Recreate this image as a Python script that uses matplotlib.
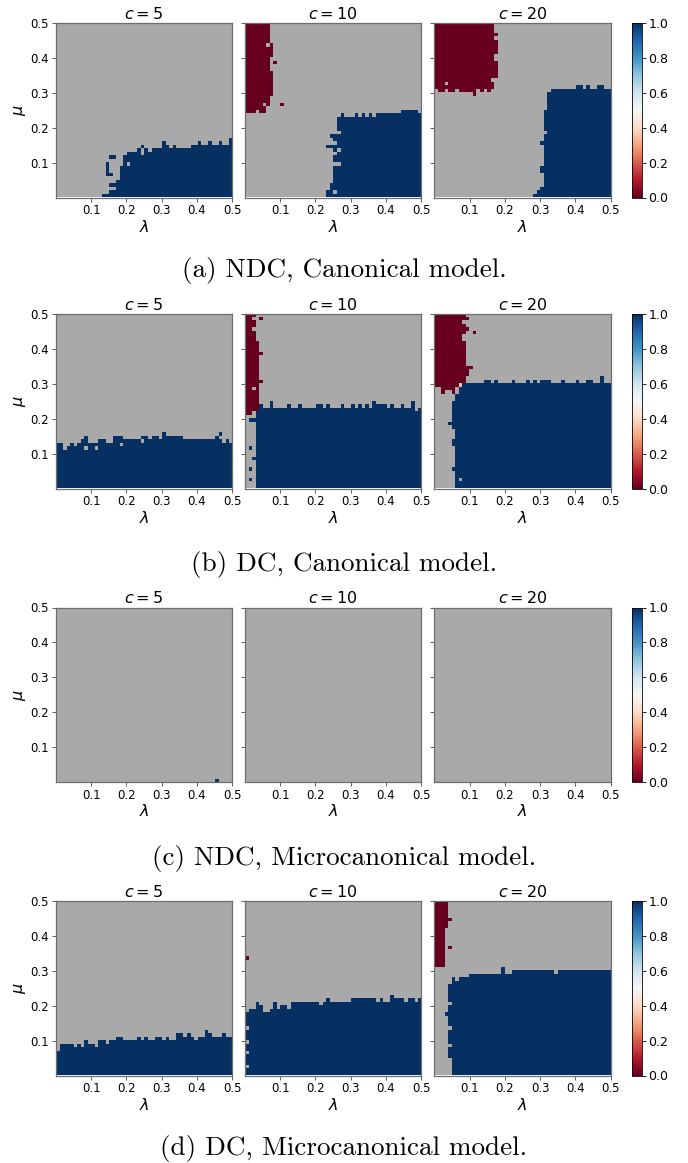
import numpy as np
import matplotlib
matplotlib.use("Agg")
import matplotlib.pyplot as plt
from matplotlib import colors, cm

# ---------------- data (cell indices on a 50 x 50 grid, step 0.01) ----------------
C_VALUES = [5, 10, 20]
LAM_TICKS = [0.1, 0.2, 0.3, 0.4, 0.5]
MU_TICKS = [0.1, 0.2, 0.3, 0.4, 0.5]
CBAR_TICKS = [0.0, 0.2, 0.4, 0.6, 0.8, 1.0]
CAPTIONS = ["(a) NDC, Canonical model.", "(b) DC, Canonical model.",
            "(c) NDC, Microcanonical model.", "(d) DC, Microcanonical model."]

# (a) NDC canonical
A1_TOP = [0, 0, 0, 0, 0, 0, 0, 0, 0, 0, 0, 0, 0, 1, 2, 3, 4, 9, 12, 12, 13, 13, 13, 14, 15,
          14, 13, 14, 14, 14, 16, 15, 14, 15, 14, 14, 14, 14, 15, 15, 16, 15, 15, 16, 15, 15, 16, 15, 15, 17]
A1_LEFT = [13, 15, 17, 16, 17, 18, 18, 18, 18, 19, 19, 19, 20, 22, 23, 0, 0, 0, 0, 0, 0, 0, 0, 0, 0,
           0, 0, 0, 0, 0, 0, 0, 0, 0, 0, 0, 0, 0, 0, 0, 0, 0, 0, 0, 0, 0, 0, 0, 0, 0]
A1_BLUE_DOTS = [(14, 6), (14, 7), (14, 8), (14, 9), (15, 6), (15, 11), (16, 11), (15, 3)]
A1_GRAY_DOTS = [(20, 9), (24, 12), (24, 13)]

A2_TOP = [0, 0, 0, 0, 0, 0, 0, 0, 0, 0, 0, 0, 0, 0, 0, 0, 0, 0, 0, 0, 0, 0, 0, 23, 23,
          23, 23, 24, 23, 23, 23, 24, 23, 24, 23, 24, 23, 24, 24, 24, 24, 24, 24, 24, 25, 25, 25, 25, 25, 24]
A2_LEFT = [23, 23, 24, 24, 25, 25, 25, 25, 25, 26, 25, 25, 26, 25, 25, 26, 25, 25, 26, 26, 26, 26, 26, 27, 0,
           0, 0, 0, 0, 0, 0, 0, 0, 0, 0, 0, 0, 0, 0, 0, 0, 0, 0, 0, 0, 0, 0, 0, 0, 0]
A2_RED_BOTTOM = [24, 24, 24, 25, 24, 24, 25, 26, 50, 50, 50, 50, 50, 50, 50, 50, 50, 50, 50, 50, 50, 50, 50, 50, 50,
                 50, 50, 50, 50, 50, 50, 50, 50, 50, 50, 50, 50, 50, 50, 50, 50, 50, 50, 50, 50, 50, 50, 50, 50, 50]
A2_RED_RIGHT = [0, 0, 0, 0, 0, 0, 0, 0, 0, 0, 0, 0, 0, 0, 0, 0, 0, 0, 0, 0, 0, 0, 0, 0, 6,
                6, 7, 7, 7, 8, 8, 8, 8, 8, 8, 8, 7, 7, 7, 7, 8, 8, 8, 8, 7, 7, 7, 7, 7, 7]
A2_BLUE_DOTS = [(23, 14), (24, 14), (24, 17)]
A2_RED_DOTS = [(8, 38), (10, 26)]
A2_GRAY_DOTS = [(25, 1), (26, 9), (26, 13), (26, 18), (6, 43), (5, 26)]

A3_TOP = [0, 0, 0, 0, 0, 0, 0, 0, 0, 0, 0, 0, 0, 0, 0, 0, 0, 0, 0, 0, 0, 0, 0, 0, 0,
          0, 0, 0, 1, 2, 30, 30, 30, 31, 31, 31, 31, 31, 31, 31, 32, 32, 31, 32, 31, 31, 32, 32, 31, 31]
A3_LEFT = [28, 29, 30, 31, 31, 31, 31, 30, 30, 31, 31, 31, 31, 31, 31, 31, 31, 31, 32, 31, 31, 31, 31, 31, 31,
           32, 32, 32, 32, 32, 33, 40, 0, 0, 0, 0, 0, 0, 0, 0, 0, 0, 0, 0, 0, 0, 0, 0, 0, 0]
A3_RED_BOTTOM = [31, 30, 30, 31, 30, 30, 31, 30, 30, 30, 30, 29, 31, 30, 31, 30, 31, 34, 50, 50, 50, 50, 50, 50, 50,
                 50, 50, 50, 50, 50, 50, 50, 50, 50, 50, 50, 50, 50, 50, 50, 50, 50, 50, 50, 50, 50, 50, 50, 50, 50]
A3_RED_RIGHT = [0, 0, 0, 0, 0, 0, 0, 0, 0, 0, 0, 0, 0, 0, 0, 0, 0, 0, 0, 0, 0, 0, 0, 0, 0,
                0, 0, 0, 0, 17, 17, 17, 17, 17, 18, 18, 18, 18, 18, 17, 17, 18, 18, 18, 18, 17, 18, 17, 17, 17]
A3_BLUE_DOTS = [(30, 15)]
A3_GRAY_DOTS = [(3, 32), (16, 33)]

# (b) DC canonical
B1_TOP = [13, 13, 11, 12, 13, 12, 13, 14, 15, 13, 13, 13, 14, 14, 13, 13, 15, 15, 15, 14, 14, 14, 14, 14, 15,
          15, 14, 15, 15, 14, 16, 15, 15, 15, 15, 15, 14, 14, 14, 14, 14, 14, 14, 14, 14, 15, 16, 13, 14, 13]
B1_GRAY_DOTS = [(8, 11), (11, 11), (18, 12), (24, 13), (46, 14)]

B2_TOP = [0, 0, 0, 22, 24, 23, 23, 25, 23, 23, 23, 23, 24, 23, 23, 24, 23, 23, 23, 23, 24, 24, 23, 24, 23,
          23, 23, 24, 23, 23, 24, 23, 24, 23, 24, 23, 25, 24, 24, 24, 23, 24, 23, 23, 24, 23, 23, 25, 22, 23]
B2_LEFT = [3, 3, 3, 3, 2, 3, 3, 3, 3, 3, 3, 3, 2, 3, 3, 3, 3, 3, 3, 3, 3, 3, 3, 3, 3,
           3, 3, 3, 3, 3, 3, 3, 3, 3, 3, 3, 3, 3, 3, 3, 3, 3, 3, 3, 3, 3, 3, 3, 3, 3]
B2_RED_BOTTOM = [21, 21, 22, 22, 30, 50, 50, 50, 50, 50, 50, 50, 50, 50, 50, 50, 50, 50, 50, 50, 50, 50, 50, 50, 50,
                 50, 50, 50, 50, 50, 50, 50, 50, 50, 50, 50, 50, 50, 50, 50, 50, 50, 50, 50, 50, 50, 50, 50, 50, 50]
B2_RED_RIGHT = [0, 0, 0, 0, 0, 0, 0, 0, 0, 0, 0, 0, 0, 0, 0, 0, 0, 0, 0, 0, 0, 2, 4, 4, 4,
                4, 4, 4, 4, 4, 5, 4, 4, 4, 4, 4, 4, 4, 5, 4, 4, 4, 3, 3, 3, 3, 3, 3, 3, 3]
B2_BLUE_DOTS = [(1, 19), (2, 19), (1, 11), (1, 5), (1, 2), (2, 8)]
B2_RED_DOTS = [(4, 48)]
B2_GRAY_DOTS = [(2, 48), (2, 45), (2, 28)]

B3_TOP = [0, 0, 0, 0, 19, 26, 27, 29, 30, 30, 30, 30, 30, 30, 31, 31, 30, 31, 30, 30, 30, 30, 31, 30, 30,
          30, 31, 30, 31, 30, 31, 31, 31, 30, 30, 30, 31, 30, 30, 30, 31, 30, 30, 31, 31, 30, 30, 32, 30, 30]
B3_LEFT = [6, 6, 6, 6, 6, 5, 6, 6, 6, 6, 6, 6, 5, 5, 6, 6, 6, 5, 4, 5, 5, 5, 5, 5, 5,
           6, 6, 6, 7, 8, 0, 0, 0, 0, 0, 0, 0, 0, 0, 0, 0, 0, 0, 0, 0, 0, 0, 0, 0, 0]
B3_RED_BOTTOM = [29, 29, 27, 28, 28, 27, 29, 30, 30, 32, 34, 50, 50, 50, 50, 50, 50, 50, 50, 50, 50, 50, 50, 50, 50,
                 50, 50, 50, 50, 50, 50, 50, 50, 50, 50, 50, 50, 50, 50, 50, 50, 50, 50, 50, 50, 50, 50, 50, 50, 50]
B3_RED_RIGHT = [0, 0, 0, 0, 0, 0, 0, 0, 0, 0, 0, 0, 0, 0, 0, 0, 0, 0, 0, 0, 0, 0, 0, 0, 0,
                0, 0, 6, 6, 7, 9, 9, 10, 10, 11, 9, 9, 9, 9, 9, 9, 9, 8, 8, 9, 10, 9, 9, 10, 9]
B3_RED_DOTS = [(11, 44)]
B3_GRAY_DOTS = [(8, 47), (7, 2)]
B3_MID_DOTS = [(7, 29, 0.35)]

# (c) NDC microcanonical
C1_BLUE_DOTS = [(45, 0)]

# (d) DC microcanonical
D1_TOP = [7, 9, 9, 9, 9, 8, 9, 8, 10, 9, 9, 8, 10, 10, 9, 10, 10, 11, 11, 10, 10, 10, 10, 11, 10,
          11, 10, 10, 11, 11, 10, 11, 10, 10, 12, 12, 11, 12, 11, 10, 11, 11, 13, 12, 11, 11, 11, 12, 11, 11]

D2_TOP = [18, 19, 19, 21, 20, 19, 18, 19, 21, 19, 20, 20, 19, 21, 21, 21, 21, 21, 21, 21, 21, 20, 21, 22, 21,
          21, 21, 21, 21, 21, 22, 22, 22, 22, 22, 22, 22, 21, 22, 21, 21, 23, 22, 22, 22, 22, 22, 22, 22, 22]
D2_RED_DOTS = [(0, 33)]
D2_GRAY_DOTS = [(0, 2), (0, 6), (0, 9), (0, 13), (5, 18), (45, 21), (48, 21)]

D3_TOP = [0, 0, 0, 18, 26, 28, 27, 28, 28, 28, 29, 29, 29, 29, 29, 29, 29, 29, 29, 31, 29, 29, 30, 30, 30,
          30, 30, 30, 30, 30, 30, 30, 30, 30, 29, 30, 30, 30, 30, 30, 30, 30, 30, 30, 30, 30, 30, 30, 30, 30]
D3_LEFT = [5, 5, 5, 5, 5, 4, 4, 4, 4, 4, 4, 4, 4, 4, 4, 4, 4, 3, 4, 4, 4, 4, 4, 4, 4,
           4, 5, 5, 6, 8, 19, 0, 0, 0, 0, 0, 0, 0, 0, 0, 0, 0, 0, 0, 0, 0, 0, 0, 0, 0]
D3_RED_BOTTOM = [31, 31, 31, 34, 50, 50, 50, 50, 50, 50, 50, 50, 50, 50, 50, 50, 50, 50, 50, 50, 50, 50, 50, 50, 50,
                 50, 50, 50, 50, 50, 50, 50, 50, 50, 50, 50, 50, 50, 50, 50, 50, 50, 50, 50, 50, 50, 50, 50, 50, 50]
D3_RED_RIGHT = [0, 0, 0, 0, 0, 0, 0, 0, 0, 0, 0, 0, 0, 0, 0, 0, 0, 0, 0, 0, 0, 0, 0, 0, 0,
                0, 0, 0, 0, 0, 0, 3, 3, 3, 3, 3, 3, 3, 3, 3, 3, 3, 4, 4, 4, 4, 4, 4, 4, 4]
D3_RED_DOTS = [(4, 44), (4, 36)]
D3_GRAY_DOTS = [(4, 20), (4, 13), (4, 8)]

N = 50


def build(top=None, left=None, red_bottom=None, red_right=None,
          blue_dots=(), red_dots=(), gray_dots=(), mid_dots=()):
    z = np.full((N, N), np.nan)
    if top is not None:
        for j in range(N):
            for i in range(top[j]):
                if left is None or j >= left[i]:
                    z[i, j] = 1.0
    if red_bottom is not None:
        for j in range(N):
            for i in range(red_bottom[j], N):
                if j < red_right[i]:
                    z[i, j] = 0.0
    for j, i in blue_dots:
        z[i, j] = 1.0
    for j, i in red_dots:
        z[i, j] = 0.0
    for j, i in gray_dots:
        z[i, j] = np.nan
    for j, i, v in mid_dots:
        z[i, j] = v
    return z


grids = [
    [build(A1_TOP, A1_LEFT, blue_dots=A1_BLUE_DOTS, gray_dots=A1_GRAY_DOTS),
     build(A2_TOP, A2_LEFT, A2_RED_BOTTOM, A2_RED_RIGHT, A2_BLUE_DOTS, A2_RED_DOTS, A2_GRAY_DOTS),
     build(A3_TOP, A3_LEFT, A3_RED_BOTTOM, A3_RED_RIGHT, A3_BLUE_DOTS, (), A3_GRAY_DOTS)],
    [build(B1_TOP, gray_dots=B1_GRAY_DOTS),
     build(B2_TOP, B2_LEFT, B2_RED_BOTTOM, B2_RED_RIGHT, B2_BLUE_DOTS, B2_RED_DOTS, B2_GRAY_DOTS),
     build(B3_TOP, B3_LEFT, B3_RED_BOTTOM, B3_RED_RIGHT, (), B3_RED_DOTS, B3_GRAY_DOTS, B3_MID_DOTS)],
    [build(blue_dots=C1_BLUE_DOTS), build(), build()],
    [build(D1_TOP),
     build(D2_TOP, red_dots=D2_RED_DOTS, gray_dots=D2_GRAY_DOTS),
     build(D3_TOP, D3_LEFT, D3_RED_BOTTOM, D3_RED_RIGHT, (), D3_RED_DOTS, D3_GRAY_DOTS)],
]

# ---------------- figure ----------------
W, H = 688, 1163
fig = plt.figure(figsize=(W / 100, H / 100), dpi=100)


def rect(x0, y0, w, h):
    return [x0 / W, 1 - (y0 + h) / H, w / W, h / H]


cmap = plt.get_cmap("RdBu").copy()
cmap.set_bad("#a9a9a9")
norm = colors.Normalize(vmin=0, vmax=1)

ROW_TOPS = [23, 314, 607.5, 901]
COL_LEFTS = [56, 245, 434.5]
PW, PH = 176, 174.5
CAP_BASE = [277, 571, 865, 1155]
SPINE = "#6e6e6e"

for r in range(4):
    for c in range(3):
        ax = fig.add_axes(rect(COL_LEFTS[c], ROW_TOPS[r], PW, PH))
        z = np.ma.masked_invalid(grids[r][c])
        ax.imshow(z, cmap=cmap, norm=norm, origin="lower", extent=[0, 0.5, 0, 0.5],
                  aspect="auto", interpolation="nearest")
        ax.set_xlim(0, 0.5)
        ax.set_ylim(0, 0.5)
        ax.set_xticks(LAM_TICKS)
        ax.set_xticklabels([f"{t:.1f}" for t in LAM_TICKS])
        ax.set_yticks(MU_TICKS)
        if c == 0:
            ax.set_yticklabels([f"{t:.1f}" for t in MU_TICKS])
            ax.set_ylabel(r"$\mu$", fontsize=11.5, labelpad=2)
        else:
            ax.set_yticklabels([])
        ax.set_xlabel(r"$\lambda$", fontsize=11.5, labelpad=1)
        ax.set_title(rf"$c = {C_VALUES[c]}$", fontsize=11.5, pad=3)
        ax.tick_params(labelsize=8.5, length=3, width=0.6, pad=2, color="#444444")
        for s in ax.spines.values():
            s.set_color(SPINE)
            s.set_linewidth(0.9)

    cax = fig.add_axes(rect(632, ROW_TOPS[r], 9.5, PH))
    cb = fig.colorbar(cm.ScalarMappable(norm=norm, cmap=cmap), cax=cax, ticks=CBAR_TICKS)
    cb.ax.set_yticklabels([f"{t:.1f}" for t in CBAR_TICKS])
    cb.ax.tick_params(labelsize=9, length=3, width=0.6, pad=2)
    cb.outline.set_linewidth(0.6)

    fig.text(0.5, 1 - CAP_BASE[r] / H, CAPTIONS[r], ha="center", va="baseline",
             fontsize=19.5, family="cmr10")

fig.savefig("out.png", dpi=100)
